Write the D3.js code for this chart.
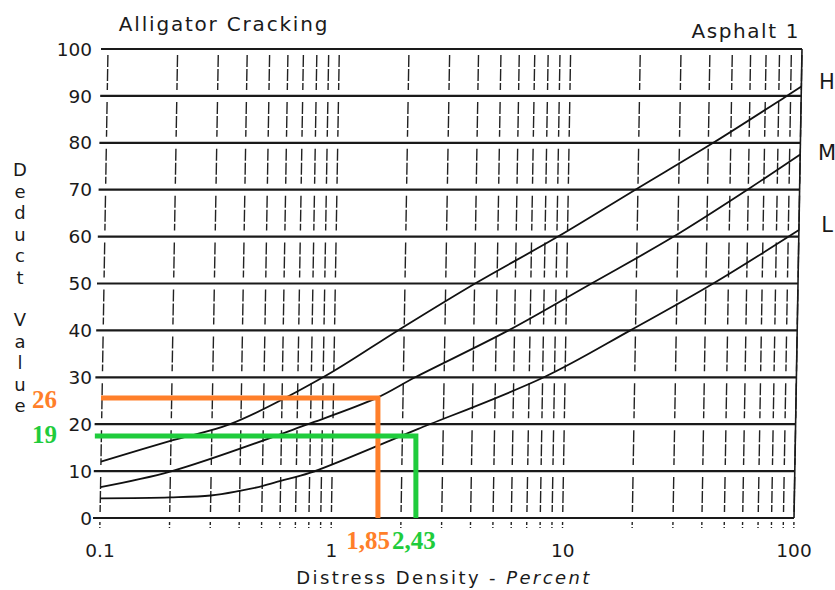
<!DOCTYPE html>
<html lang="en">
<head>
  <meta charset="UTF-8" />
  <title>Alligator Cracking - Asphalt 1</title>
  <script src="https://cdn.jsdelivr.net/npm/d3@7"></script>
  <style>
    body {
      margin: 0;
      background: white;
    }

    svg {
      display: block;
      font-family: "DejaVu Sans", sans-serif;
      fill: #1a1a1a;
    }

    .grid-h {
      stroke: #1a1a1a;
      stroke-width: 2.2;
    }

    .grid-v {
      stroke: #222;
      stroke-width: 1.4;
      stroke-dasharray: 12, 2;
    }

    .curve {
      fill: none;
      stroke: #111;
      stroke-width: 1.8;
    }

    .note {
      font-family: "Liberation Serif", serif;
      font-weight: bold;
      font-size: 25px;
    }
  </style>
</head>
<body>
  <div id="chart"></div>

  <script>
    // tick values
    const xTicks = [0.1, 1, 10, 100];
    const xTickLabels = ["0.1", "1", "10", "100"];
    const yTicks = [0, 10, 20, 30, 40, 50, 60, 70, 80, 90, 100];
    const gridX = [0.1, 0.2, 0.3, 0.4, 0.5, 0.6, 0.7, 0.8, 0.9,
                   1, 2, 3, 4, 5, 6, 7, 8, 9,
                   10, 20, 30, 40, 50, 60, 70, 80, 90, 100];

    // deduct value curves (density %, deduct value)
    const hDensity = [0.1, 0.204, 0.359, 0.899, 1.88, 4.02, 9.1, 19.5, 42, 86.7, 100];
    const hDeduct  = [12, 16.6, 20, 30, 40, 50, 60, 70, 80, 90, 92];
    const mDensity = [0.1, 0.203, 0.78, 1.54, 2.25, 5.65, 12.8, 28.8, 59.5, 100];
    const mDeduct  = [6.6, 10, 20, 25.6, 30, 40, 50, 60, 70, 77.5];
    const lDensity = [0.1, 0.2, 0.3, 0.4, 0.5, 0.6, 0.8, 1.77, 2.34, 8.1, 19, 43, 100];
    const lDeduct  = [4.2, 4.4, 4.8, 5.8, 6.8, 7.9, 9.6, 16.5, 19, 30, 40, 50, 61.4];
    const curveNames = ["H", "M", "L"];
    const curveLabelY = [93, 78, 62.5];

    // hand drawn reading lines
    const noteColors = ["#ff7f2a", "#1fcc3c"];
    const noteStart = [0.101, 0.095];
    const noteDensity = [1.59, 2.32];
    const noteDeduct = [25.6, 17.5];
    const noteDensityText = ["1,85", "2,43"];
    const noteDeductText = ["26", "19"];

    const width = 835;
    const height = 590;

    const x = d3.scaleLog().domain([0.1, 100]).range([100, 794]);
    const y = d3.scaleLinear().domain([0, 100]).range([518, 49]);

    // the scanned grid leans a little to the right towards the top
    const lean = 8 / 469;

    const svg = d3.select("#chart")
      .append("svg")
      .attr("width", width)
      .attr("height", height);

    const plot = svg.append("g")
      .attr("transform", `translate(${lean * y(0)},0) skewX(${-Math.atan(lean) * 180 / Math.PI})`);

    // vertical dashed lines, broken at every horizontal line
    const bands = yTicks.slice(0, -1);
    gridX.forEach(v => {
      plot.append("g")
        .selectAll("line")
        .data(bands)
        .join("line")
        .attr("class", "grid-v")
        .attr("x1", x(v))
        .attr("x2", x(v))
        .attr("y1", d => y(d + 10) + 6)
        .attr("y2", d => y(d) - 6);

      plot.append("line")
        .attr("class", "grid-v")
        .style("stroke-dasharray", "3,2")
        .attr("x1", x(v))
        .attr("x2", x(v))
        .attr("y1", y(0) + 4)
        .attr("y2", y(0) + 10);
    });

    plot.append("g")
      .selectAll("line")
      .data(yTicks)
      .join("line")
      .attr("class", "grid-h")
      .attr("x1", x(0.1) - 7)
      .attr("x2", x(100))
      .attr("y1", d => y(d))
      .attr("y2", d => y(d));

    plot.append("line")
      .attr("class", "grid-h")
      .style("stroke-width", 1.6)
      .attr("x1", x(100))
      .attr("x2", x(100))
      .attr("y1", y(100))
      .attr("y2", y(0));

    const line = d3.line()
      .x(d => x(d[0]))
      .y(d => y(d[1]))
      .curve(d3.curveCatmullRom.alpha(0.5));

    const curves = [
      d3.zip(hDensity, hDeduct),
      d3.zip(mDensity, mDeduct),
      d3.zip(lDensity, lDeduct)
    ];

    plot.selectAll(".curve")
      .data(curves)
      .join("path")
      .attr("class", "curve")
      .attr("d", line);

    // axis labels
    svg.append("g")
      .selectAll("text")
      .data(yTicks)
      .join("text")
      .attr("x", 92)
      .attr("y", d => y(d))
      .attr("dy", "0.36em")
      .attr("text-anchor", "end")
      .style("font-size", "18.5px")
      .text(d => d);

    svg.append("g")
      .selectAll("text")
      .data(xTicks)
      .join("text")
      .attr("x", x)
      .attr("y", 557)
      .attr("text-anchor", "middle")
      .style("font-size", "18.5px")
      .text((d, i) => xTickLabels[i]);

    const xTitle = svg.append("text")
      .attr("x", 444)
      .attr("y", 584)
      .attr("text-anchor", "middle")
      .style("font-size", "18px")
      .style("letter-spacing", "2.4px");
    xTitle.append("tspan").text("Distress Density - ");
    xTitle.append("tspan").style("font-style", "italic").text("Percent");

    // "Deduct Value" written as a column of letters
    const yTitle = "Deduct Value".split("");
    let ly = 170;
    yTitle.forEach(ch => {
      if (ch === " ") { ly += 21; return; }
      svg.append("text")
        .attr("x", 20)
        .attr("y", ly)
        .attr("dy", "0.36em")
        .attr("text-anchor", "middle")
        .style("font-size", "18px")
        .text(ch);
      ly += 21.5;
    });

    svg.append("text")
      .attr("x", 224)
      .attr("y", 31)
      .attr("text-anchor", "middle")
      .style("font-size", "20px")
      .style("letter-spacing", "1.8px")
      .text("Alligator Cracking");

    svg.append("text")
      .attr("x", 800)
      .attr("y", 38)
      .attr("text-anchor", "end")
      .style("font-size", "20px")
      .style("letter-spacing", "1.6px")
      .text("Asphalt 1");

    svg.append("g")
      .selectAll("text")
      .data(curveNames)
      .join("text")
      .attr("x", 827)
      .attr("y", (d, i) => y(curveLabelY[i]))
      .attr("dy", "0.36em")
      .attr("text-anchor", "middle")
      .style("font-size", "21px")
      .text(d => d);

    // reading lines
    const notes = svg.append("g");
    noteColors.forEach((c, i) => {
      notes.append("path")
        .attr("fill", "none")
        .attr("stroke", c)
        .attr("stroke-width", 5)
        .attr("d", d3.line()([
          [x(noteStart[i]), y(noteDeduct[i])],
          [x(noteDensity[i]), y(noteDeduct[i])],
          [x(noteDensity[i]), y(0)]
        ]));

      notes.append("text")
        .attr("class", "note")
        .attr("x", 57)
        .attr("y", y(noteDeduct[i]) + (i === 0 ? 10 : 7))
        .attr("text-anchor", "end")
        .style("fill", c)
        .text(noteDeductText[i]);
    });

    notes.append("text")
      .attr("class", "note")
      .attr("x", x(noteDensity[0]) + 12)
      .attr("y", 549)
      .attr("text-anchor", "end")
      .style("fill", noteColors[0])
      .text(noteDensityText[0]);

    notes.append("text")
      .attr("class", "note")
      .attr("x", x(noteDensity[1]) - 24)
      .attr("y", 549)
      .attr("text-anchor", "start")
      .style("fill", noteColors[1])
      .text(noteDensityText[1]);
  </script>
</body>
</html>
